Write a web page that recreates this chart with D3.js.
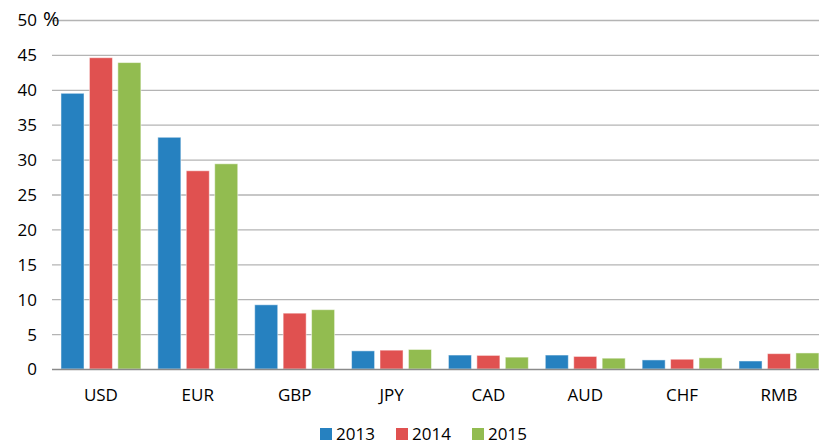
<!DOCTYPE html>
<html>
<head>
<meta charset="utf-8">
<script src="https://cdn.jsdelivr.net/npm/d3@7"></script>
<style>
  body { margin: 0; background: #fff; }
  text { font-family: "Open Sans", "Liberation Sans", sans-serif; fill: #000; }
</style>
</head>
<body>
<svg id="chart" width="819" height="446"></svg>
<script>
// Currency shares, %
const currencies = ["USD", "EUR", "GBP", "JPY", "CAD", "AUD", "CHF", "RMB"];
const years = ["2013", "2014", "2015"];
const values2013 = [39.5, 33.2, 9.2, 2.6, 2.0, 2.0, 1.3, 1.15];
const values2014 = [44.6, 28.4, 8.0, 2.7, 1.95, 1.8, 1.4, 2.2];
const values2015 = [43.9, 29.4, 8.5, 2.8, 1.7, 1.55, 1.6, 2.3];
const yTicks = [0, 5, 10, 15, 20, 25, 30, 35, 40, 45, 50];
const colors = ["#2681c0", "#e05150", "#92bc50"];

const seriesByYear = { "2013": values2013, "2014": values2014, "2015": values2015 };

const svg = d3.select("#chart");

// Scales
const x0 = d3.scaleBand()
  .domain(currencies)
  .range([52.5, 827.4])
  .paddingInner(0.175)
  .paddingOuter(0.0875);

const x1 = d3.scaleBand()
  .domain(years)
  .range([0, x0.bandwidth()])
  .paddingInner(0.19);

const y = d3.scaleLinear()
  .domain([0, 50])
  .range([369, 20]);

const color = d3.scaleOrdinal().domain(years).range(colors);

// Gridlines
svg.append("g")
  .selectAll("line")
  .data(yTicks.filter(d => d > 0))
  .join("line")
    .attr("x1", 52)
    .attr("x2", 819)
    .attr("y1", d => y(d) + 0.5)
    .attr("y2", d => y(d) + 0.5)
    .attr("stroke", "#b4b4b4")
    .attr("stroke-width", 1.3);

// Y axis labels
const yAxis = svg.append("g")
  .attr("transform", "translate(52,0)")
  .call(d3.axisLeft(y).tickValues(yTicks).tickSize(0).tickPadding(15));
yAxis.select(".domain").remove();
yAxis.selectAll("text")
  .style("font-size", "17px")
  .attr("dy", "0.35em");

// % unit
svg.append("text")
  .attr("x", 43)
  .attr("y", 26)
  .style("font-size", "20px")
  .text("%");

// Bars
const groups = svg.append("g")
  .selectAll("g")
  .data(currencies)
  .join("g")
    .attr("transform", d => `translate(${x0(d)},0)`);

groups.selectAll("rect")
  .data((c, i) => years.map(yr => ({ year: yr, value: seriesByYear[yr][i] })))
  .join("rect")
    .attr("x", d => x1(d.year))
    .attr("y", d => y(d.value))
    .attr("width", x1.bandwidth())
    .attr("height", d => y(0) - y(d.value))
    .attr("fill", d => color(d.year))
    .attr("stroke", "#fff")
    .attr("stroke-opacity", 0.5)
    .attr("stroke-width", 1);

// Baseline
svg.append("line")
  .attr("x1", 52)
  .attr("x2", 819)
  .attr("y1", y(0) + 0.5)
  .attr("y2", y(0) + 0.5)
  .attr("stroke", "#8a8a8a")
  .attr("stroke-width", 1.5);

// X axis labels
const xAxis = svg.append("g")
  .attr("transform", `translate(0,${y(0)})`)
  .call(d3.axisBottom(x0).tickSize(0).tickPadding(20));
xAxis.select(".domain").remove();
xAxis.selectAll("text").style("font-size", "17px");

// Legend
const legendX = [320, 396, 472];
const legend = svg.append("g")
  .selectAll("g")
  .data(years)
  .join("g")
    .attr("transform", (d, i) => `translate(${legendX[i]},428)`);

legend.append("rect")
  .attr("width", 12)
  .attr("height", 12)
  .attr("fill", d => color(d));

legend.append("text")
  .attr("x", 16)
  .attr("y", 6)
  .attr("dy", "0.36em")
  .style("font-size", "17px")
  .text(d => d);
</script>
</body>
</html>
